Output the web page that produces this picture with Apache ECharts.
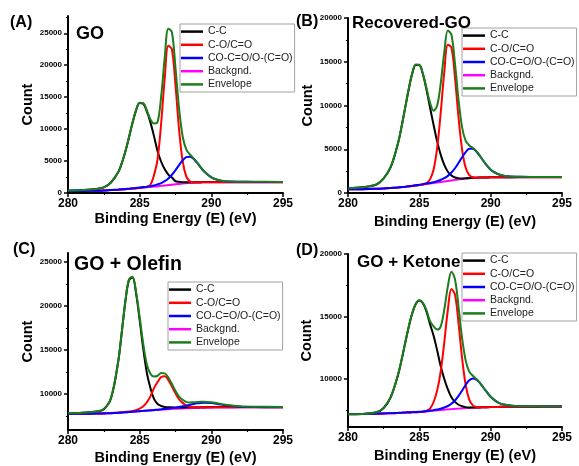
<!DOCTYPE html>
<html>
<head>
<meta charset="utf-8">
<script src="https://cdn.jsdelivr.net/npm/echarts@6/dist/echarts.min.js"></script>
<style>
  html, body { margin: 0; padding: 0; background: #fff; }
  #chart { width: 579px; height: 466px; }
</style>
</head>
<body>
<div id="chart"></div>
<script>
// binding energy grid (eV), shared by the four panels
const energy = [280, 281, 282, 282.5, 283, 283.5, 283.75, 284, 284.25, 284.5, 284.75, 285, 285.25, 285.5, 285.75, 286, 286.25, 286.5, 286.75, 287, 287.25, 287.5, 287.75, 288, 288.25, 288.5, 288.75, 289, 289.25, 289.5, 290, 290.5, 291, 292, 293, 295];

// (A) GO
const bgA = [300, 320, 360, 400, 450, 510, 550, 590, 640, 690, 740, 790, 850, 900, 950, 1000, 1060, 1120, 1180, 1240, 1300, 1360, 1420, 1480, 1530, 1570, 1610, 1640, 1660, 1675, 1690, 1700, 1700, 1700, 1700, 1700];
const ccA = [390, 470, 640, 870, 1650, 3230, 4640, 6460, 8650, 10950, 12930, 14080, 13990, 12760, 11050, 8900, 6550, 4890, 3700, 2890, 2410, 1860, 1750, 1700, 1680, 1670, 1680, 1690, 1700, 1710, 1720, 1725, 1725, 1720, 1715, 1710];
const coA = [300, 320, 360, 400, 450, 510, 550, 590, 640, 690, 740, 790, 860, 960, 1300, 2800, 5320, 10910, 18020, 23030, 22490, 16820, 9920, 4980, 2600, 1820, 1650, 1640, 1660, 1675, 1690, 1700, 1700, 1700, 1700, 1700];
const esterA = [300, 320, 360, 400, 470, 535, 575, 620, 675, 730, 790, 850, 925, 990, 1060, 1170, 1350, 1550, 1850, 2280, 2860, 3580, 4370, 5120, 5610, 5690, 5350, 4740, 4020, 3365, 2430, 2010, 1820, 1750, 1740, 1720];
const envA = [390, 470, 640, 870, 1670, 3255, 4665, 6490, 8685, 10990, 12980, 14140, 14075, 12910, 11510, 10870, 11100, 15110, 21210, 25720, 25160, 19540, 13200, 8840, 6830, 6040, 5460, 4790, 4060, 3400, 2460, 2035, 1845, 1770, 1755, 1730];

// (B) Recovered-GO
const bgB = [420, 440, 480, 510, 560, 620, 660, 700, 750, 800, 850, 900, 960, 1020, 1080, 1140, 1200, 1260, 1320, 1380, 1440, 1500, 1560, 1610, 1650, 1690, 1720, 1740, 1760, 1770, 1790, 1800, 1800, 1810, 1810, 1810];
const ccB = [550, 650, 970, 1660, 2990, 5650, 7530, 9670, 11800, 13620, 14640, 14610, 13570, 11820, 9770, 7770, 5900, 4360, 3220, 2430, 2000, 1770, 1690, 1670, 1680, 1710, 1730, 1750, 1765, 1775, 1795, 1805, 1805, 1815, 1815, 1815];
const coB = [420, 440, 480, 510, 560, 620, 660, 700, 750, 800, 850, 900, 980, 1130, 1560, 2680, 5150, 9190, 13840, 16930, 16620, 13150, 8580, 4940, 2890, 2050, 1800, 1750, 1760, 1770, 1790, 1800, 1800, 1810, 1810, 1810];
const esterB = [420, 440, 490, 520, 575, 640, 680, 725, 778, 830, 885, 940, 1010, 1080, 1155, 1240, 1340, 1510, 1690, 1960, 2340, 2830, 3450, 4090, 4680, 5050, 5070, 4750, 4230, 3630, 2670, 2170, 1940, 1860, 1840, 1830];
const envB = [550, 650, 980, 1670, 3005, 5670, 7550, 9695, 11830, 13650, 14675, 14650, 13640, 11990, 10325, 9410, 9990, 12540, 16110, 18560, 18080, 14750, 10600, 7480, 5950, 5430, 5160, 4760, 4230, 3630, 2670, 2170, 1940, 1860, 1840, 1830];

// (C) GO + Olefin
const bgC = [7730, 7740, 7760, 7780, 7810, 7850, 7880, 7910, 7940, 7970, 8000, 8030, 8060, 8090, 8120, 8150, 8180, 8210, 8240, 8270, 8290, 8310, 8330, 8350, 8365, 8380, 8395, 8405, 8415, 8425, 8440, 8450, 8460, 8470, 8475, 8480];
const ccC = [7790, 7860, 7990, 8260, 9510, 13630, 16970, 20460, 22910, 23220, 21400, 18380, 15140, 12400, 10660, 9430, 8860, 8630, 8520, 8485, 8475, 8460, 8460, 8465, 8470, 8475, 8483, 8487, 8491, 8495, 8502, 8506, 8510, 8510, 8508, 8505];
const coC = [7738, 7750, 7775, 7800, 7835, 7885, 7922, 7960, 8005, 8060, 8150, 8315, 8590, 9040, 9720, 10660, 11350, 11910, 12000, 11570, 10840, 10060, 9390, 8980, 8680, 8550, 8500, 8475, 8470, 8470, 8473, 8475, 8480, 8485, 8487, 8488];
const esterC = [7730, 7740, 7760, 7780, 7810, 7850, 7880, 7910, 7940, 7975, 8005, 8043, 8075, 8108, 8140, 8173, 8209, 8250, 8295, 8340, 8386, 8440, 8507, 8588, 8670, 8760, 8847, 8924, 8979, 9005, 8959, 8830, 8698, 8540, 8498, 8490];
const envC = [7800, 7870, 8005, 8280, 9535, 13665, 17012, 20510, 22975, 23310, 21550, 18678, 15685, 13368, 12280, 11963, 12059, 12370, 12335, 11855, 11121, 10340, 9697, 9333, 9090, 9025, 9040, 9076, 9110, 9120, 9054, 8911, 8768, 8595, 8543, 8523];

// (D) GO + Ketone
const bgD = [7190, 7200, 7220, 7240, 7260, 7280, 7295, 7310, 7320, 7330, 7340, 7355, 7375, 7400, 7430, 7460, 7490, 7520, 7545, 7570, 7590, 7610, 7630, 7650, 7670, 7685, 7700, 7715, 7725, 7735, 7750, 7765, 7775, 7785, 7790, 7800];
const ccD = [7190, 7205, 7335, 7680, 8560, 10300, 11495, 12830, 14130, 15240, 16000, 16285, 16065, 15390, 14390, 13460, 12290, 11020, 9995, 9170, 8540, 8170, 7940, 7815, 7750, 7725, 7720, 7715, 7725, 7735, 7750, 7765, 7775, 7785, 7790, 7800];
const coD = [7190, 7200, 7220, 7240, 7260, 7280, 7295, 7310, 7320, 7330, 7340, 7355, 7375, 7460, 7630, 8160, 9090, 10620, 12945, 15540, 17210, 16740, 14430, 11640, 9520, 8345, 7890, 7755, 7735, 7735, 7750, 7765, 7775, 7785, 7790, 7800];
const esterD = [7190, 7200, 7225, 7247, 7270, 7292, 7308, 7325, 7337, 7350, 7362, 7380, 7405, 7435, 7472, 7510, 7555, 7615, 7720, 7840, 8020, 8280, 8645, 9080, 9540, 9895, 10050, 9955, 9675, 9300, 8580, 8135, 7940, 7825, 7815, 7812];
const envD = [7190, 7205, 7340, 7687, 8570, 10312, 11508, 12845, 14147, 15260, 16022, 16310, 16095, 15485, 14632, 14210, 13955, 14215, 15570, 17410, 18590, 17970, 15755, 13235, 11470, 10595, 10260, 9995, 9685, 9300, 8580, 8135, 7940, 7825, 7815, 7812];

// tick labels
const xTicks = [280, 285, 290, 295];
const xMinor = [282.5, 287.5, 292.5];
const yTicksA = [0, 5000, 10000, 15000, 20000, 25000];
const yMinorA = [2500, 7500, 12500, 17500, 22500, 27500];
const yTicksB = [0, 5000, 10000, 15000, 20000];
const yMinorB = [2500, 7500, 12500, 17500];
const yTicksC = [10000, 15000, 20000, 25000];
const yMinorC = [7500, 12500, 17500, 22500];
const yTicksD = [10000, 15000, 20000];
const yMinorD = [7500, 12500, 17500];

const names = ['C-C', 'C-O/C=O', 'CO-C=O/O-(C=O)', 'Backgnd.', 'Envelope'];
const colors = { cc: '#000000', co: '#ff0000', ester: '#0000ff', bg: '#ff00ff', env: '#1b7d1b' };
const font = 'Arial, "Liberation Sans", sans-serif';

const panels = [
  { tag: '(A)', title: 'GO', tagPos: [10, 15], titlePos: [76, 25], titleSize: 18,
    grid: { left: 68, top: 16, width: 215, height: 177 }, yMin: 0, yMax: 27700,
    yTicks: yTicksA, yMinor: yMinorA, yGap: 31, xGap: 18, legend: [180, 24],
    bg: bgA, cc: ccA, co: coA, ester: esterA, env: envA },
  { tag: '(B)', title: 'Recovered-GO', tagPos: [296, 14], titlePos: [352, 15], titleSize: 17,
    grid: { left: 348, top: 18, width: 214, height: 175 }, yMin: 0, yMax: 20000,
    yTicks: yTicksB, yMinor: yMinorB, yGap: 33, xGap: 21, legend: [462, 28],
    bg: bgB, cc: ccB, co: coB, ester: esterB, env: envB },
  { tag: '(C)', title: 'GO + Olefin', tagPos: [13, 242], titlePos: [74, 255], titleSize: 19.5,
    grid: { left: 68, top: 253, width: 215, height: 177 }, yMin: 5900, yMax: 26000,
    yTicks: yTicksC, yMinor: yMinorC, yGap: 31, xGap: 20, legend: [168, 282],
    bg: bgC, cc: ccC, co: coC, ester: esterC, env: envC },
  { tag: '(D)', title: 'GO + Ketone', tagPos: [296, 243], titlePos: [357, 254], titleSize: 17,
    grid: { left: 348, top: 254, width: 214, height: 173 }, yMin: 6160, yMax: 20000,
    yTicks: yTicksD, yMinor: yMinorD, yGap: 34, xGap: 21, legend: [462, 253],
    bg: bgD, cc: ccD, co: coD, ester: esterD, env: envD }
];

function pairs(ys) {
  return energy.map(function (x, i) { return [x, ys[i]]; });
}

function plain(v) {
  return String(v);
}

const title = [];
const grid = [];
const xAxis = [];
const yAxis = [];
const legend = [];
const series = [];

panels.forEach(function (p, i) {
  title.push({ text: p.tag, left: p.tagPos[0], top: p.tagPos[1], padding: 0,
    textStyle: { fontSize: 16, fontWeight: 'bold', color: '#000', fontFamily: font } });
  title.push({ text: p.title, left: p.titlePos[0], top: p.titlePos[1], padding: 0,
    textStyle: { fontSize: p.titleSize, fontWeight: 'bold', color: '#000', fontFamily: font } });

  grid.push(p.grid);

  xAxis.push({
    type: 'value', gridIndex: i, min: 280, max: 295,
    name: 'Binding Energy (E) (eV)', nameLocation: 'middle', nameGap: p.xGap,
    nameTextStyle: { fontSize: 14.5, fontWeight: 'bold', color: '#000', fontFamily: font },
    axisLine: { onZero: false, lineStyle: { color: '#000', width: 2 } },
    axisTick: { customValues: xTicks, length: 4, lineStyle: { color: '#000', width: 1.5 } },
    axisLabel: { customValues: xTicks, formatter: plain, margin: 5, fontSize: 12, fontWeight: 'bold', color: '#000', fontFamily: font },
    splitLine: { show: false }
  });
  yAxis.push({
    type: 'value', gridIndex: i, min: p.yMin, max: p.yMax,
    name: 'Count', nameLocation: 'middle', nameGap: p.yGap,
    nameTextStyle: { fontSize: 14.5, fontWeight: 'bold', color: '#000', fontFamily: font },
    axisLine: { show: true, onZero: false, lineStyle: { color: '#000', width: 2 } },
    axisTick: { show: true, customValues: p.yTicks, length: 4, lineStyle: { color: '#000', width: 1.5 } },
    axisLabel: { customValues: p.yTicks, formatter: plain, margin: 6, fontSize: 8, fontWeight: 'bold', color: '#000', fontFamily: font },
    splitLine: { show: false }
  });

  legend.push({
    data: names, orient: 'vertical', left: p.legend[0], top: p.legend[1],
    icon: 'rect', itemWidth: 22, itemHeight: 2.5, itemGap: 0,
    padding: [1, 2, 1, 1], selectedMode: false,
    backgroundColor: '#fff', borderColor: '#a0a0a0', borderWidth: 1,
    textStyle: { fontSize: 10.5, lineHeight: 13.2, color: '#222', fontFamily: font }
  });

  const parts = [
    ['Backgnd.', p.bg, colors.bg],
    ['C-C', p.cc, colors.cc],
    ['C-O/C=O', p.co, colors.co],
    ['CO-C=O/O-(C=O)', p.ester, colors.ester],
    ['Envelope', p.env, colors.env]
  ];
  parts.forEach(function (s) {
    series.push({
      name: s[0], type: 'line', xAxisIndex: i, yAxisIndex: i,
      data: pairs(s[1]), color: s[2], smooth: 0.35,
      symbol: 'none', lineStyle: { width: 2 }
    });
  });
});

// minor ticks, one extra pair of axes per panel
panels.forEach(function (p, i) {
  xAxis.push({
    type: 'value', gridIndex: i, min: 280, max: 295, position: 'bottom',
    axisLine: { show: false }, axisLabel: { show: false }, splitLine: { show: false },
    axisTick: { customValues: xMinor, length: 2, lineStyle: { color: '#000', width: 1.2 } }
  });
  yAxis.push({
    type: 'value', gridIndex: i, min: p.yMin, max: p.yMax, position: 'left',
    axisLine: { show: false }, axisLabel: { show: false }, splitLine: { show: false },
    axisTick: { show: true, customValues: p.yMinor, length: 2, lineStyle: { color: '#000', width: 1.2 } }
  });
});

const chart = echarts.init(document.getElementById('chart'));
chart.setOption({
  backgroundColor: '#fff',
  animation: false,
  title: title,
  grid: grid,
  xAxis: xAxis,
  yAxis: yAxis,
  legend: legend,
  series: series
});
</script>
</body>
</html>
